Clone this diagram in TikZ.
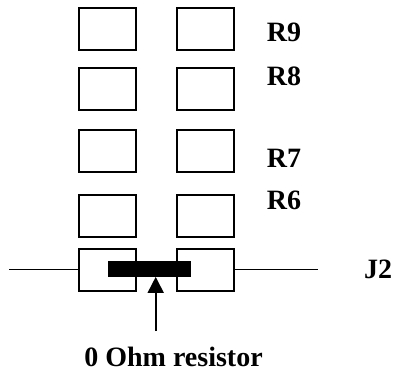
\documentclass[tikz,border=0pt]{standalone}
\usepackage{fontspec}
\setmainfont{Liberation Serif}
\usetikzlibrary{arrows.meta}
\tikzset{
  pad/.style={draw, rectangle, line width=1.4pt, minimum height=42pt, minimum width=57pt, inner sep=0pt, node distance=98pt},
  lbl/.style={inner sep=0pt, font=\fontsize{28}{30}\selectfont\bfseries},
  wire/.style={line width=1.7pt}
}
\begin{document}
\begin{tikzpicture}[x=1pt,y=-1pt]
\useasboundingbox (0,0) rectangle (395,378);
\node (padnine) [pad] at (107.5,29) {};
\node (padeight) [pad] at (107.5,89) {};
\node (padseven) [pad] at (107.5,151) {};
\node (padsix) [pad] at (107.5,216) {};
\node (padjtwo) [pad] at (107.5,270) {};
\node (padnineb) [pad, right of=padnine] {};
\node (padeightb) [pad, right of=padeight] {};
\node (padsevenb) [pad, right of=padseven] {};
\node (padsixb) [pad, right of=padsix] {};
\node (padjtwob) [pad, right of=padjtwo] {};
\node (rnine) [lbl] at (284,32) {R9};
\node (reight) [lbl] at (284,76) {R8};
\node (rseven) [lbl] at (284,158) {R7};
\node (rsix) [lbl] at (284,200) {R6};
\node (jtwo) [lbl] at (378,269) {J2};
\node (zero) [lbl] at (173.5,357) {0 Ohm resistor};
\node (link) [fill=black, rectangle, minimum height=16pt, minimum width=83pt, inner sep=0pt] at (149.2,268.7) {};
\coordinate (wireleft) at (9,269.5);
\coordinate (wireright) at (318,269.5);
\coordinate (arrowtail) at (155.7,331);
\draw [wire](wireleft)--(wireleft-|padjtwo.west);
\draw [wire](wireright-|padjtwob.east)--(wireright);
\draw [wire, -{Triangle[length=16pt,width=16pt]}](arrowtail)--(arrowtail|-link.south);
\end{tikzpicture}
\end{document}
